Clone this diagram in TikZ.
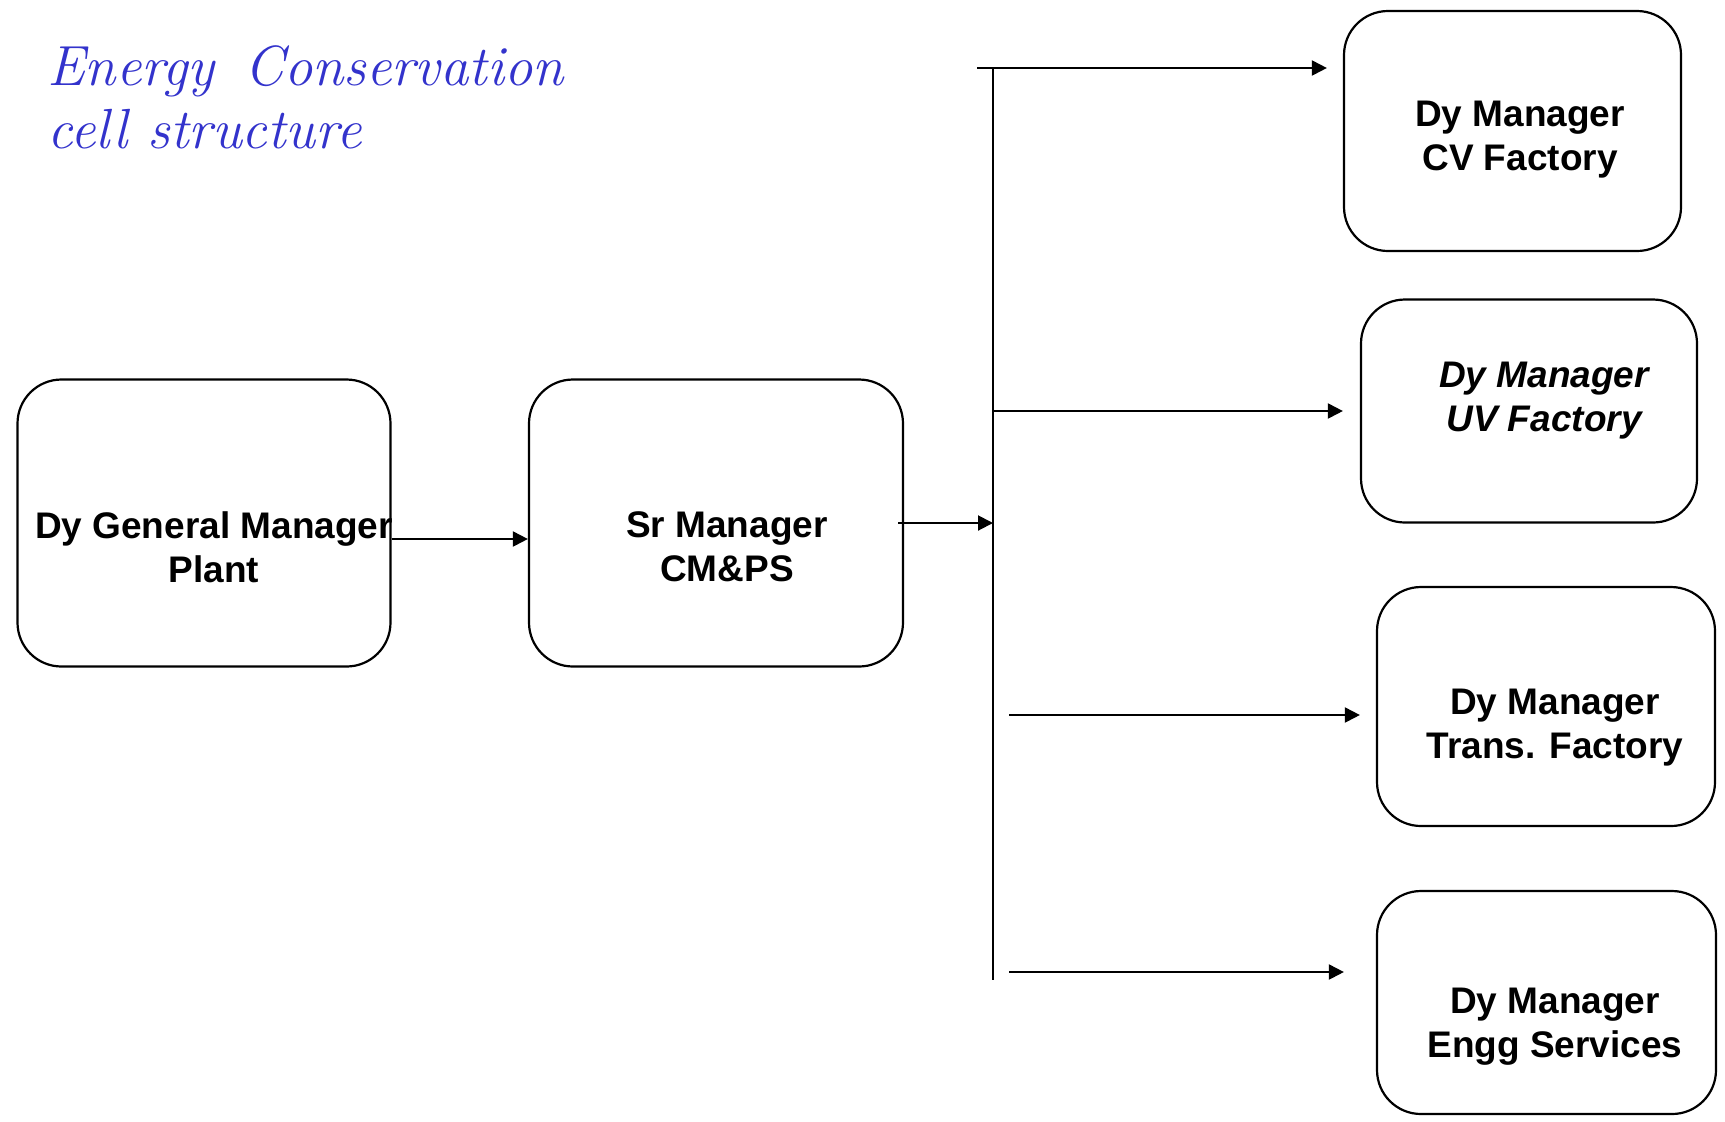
\documentclass[tikz,border=0pt]{standalone}
\usepackage{fontspec}
\setsansfont{Liberation Sans}
\usetikzlibrary{arrows.meta,calc}
\definecolor{titleblue}{RGB}{51,51,204}
\begin{document}
\begin{tikzpicture}[x=0.5pt,y=-0.5pt,
  box/.style={draw,line width=1.1pt,rounded corners=22pt,inner sep=0pt},
  lbl/.style={font=\sffamily\bfseries\fontsize{18.5}{22}\selectfont,align=center,inner sep=0pt},
  arr/.style={line width=1pt,-{Triangle[length=7.5pt,width=7.5pt]}},
  bus/.style={line width=1pt}]
\useasboundingbox (0,0) rectangle (1725,1121);
% title
\node[anchor=base west,inner sep=0pt,text=titleblue,font=\itshape\fontsize{28.3}{31.5}\selectfont,align=left] (title) at (47,148) {Energy\hspace{0.53em}Conservation\\cell structure};
% boxes
\node[box,minimum width=186.5pt,minimum height=143.5pt] (b1) at (204,523) {};
\node[box,minimum width=187pt,minimum height=143.5pt] (b2) at (716,523) {};
\node[box,minimum width=168.5pt,minimum height=120pt] (cv) at (1512.5,131) {};
\node[box,minimum width=168pt,minimum height=111.5pt] (uv) at (1529,411) {};
\node[box,minimum width=169pt,minimum height=119.5pt] (tr) at (1546,706.5) {};
\node[box,minimum width=169.5pt,minimum height=111.5pt] (en) at (1546.5,1002.5) {};
% labels
\node[lbl] (t1) at (214,547) {Dy General Manager\\Plant};
\node[lbl] (t2) at (727,547) {Sr Manager\\CM\&PS};
\node[lbl] (t3) at (1520,140) {Dy Manager\\CV Factory};
\node[lbl,font=\sffamily\bfseries\itshape\fontsize{18.5}{22}\selectfont] (t4) at (1544,401) {Dy Manager\\UV Factory};
\node[lbl] (t5) at (1555,728) {Dy Manager\\Trans. Factory};
\node[lbl] (t6) at (1555,1027) {Dy Manager\\Engg Services};
% bus
\coordinate (busT) at (993,68);
\coordinate (busB) at (993,980);
\coordinate (topL) at (977,68);
\coordinate (trL) at (1009,715);
\coordinate (enL) at (1009,972);
\draw[bus] (busT) -- (busB);
% connectors
\draw[arr] ([yshift=-8pt]b1.east) -- ([yshift=-8pt]b2.west);
\draw[arr] ([xshift=-3pt]b2.east) -- (busT |- b2.east);
\draw[arr] (topL) -- ($(topL -| cv.west)+(-8pt,0)$);
\draw[arr] (busT |- uv.west) -- ([xshift=-8.5pt]uv.west);
\draw[arr] (trL) -- ($(trL -| tr.west)+(-8pt,0)$);
\draw[arr] (enL) -- ($(enL -| en.west)+(-16pt,0)$);
\end{tikzpicture}
\end{document}
